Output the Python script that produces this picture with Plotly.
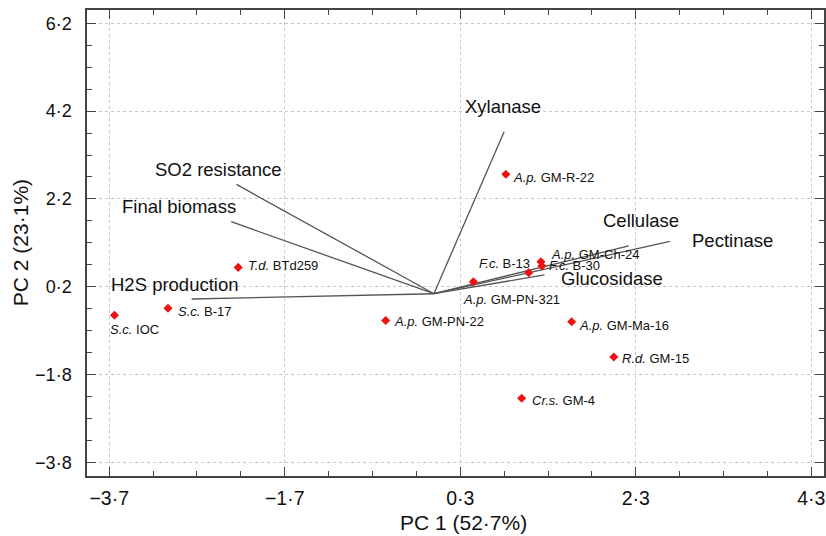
import plotly.graph_objects as go

# ---- data ----
strain_labels = ["<i>S.c.</i> IOC", "<i>S.c.</i> B-17", "<i>T.d.</i> BTd259", "<i>A.p.</i> GM-PN-22",
                 "<i>A.p.</i> GM-PN-321", "<i>F.c.</i> B-13", "<i>A.p.</i> GM-Ch-24", "<i>F.c.</i> B-30",
                 "<i>A.p.</i> GM-R-22", "<i>A.p.</i> GM-Ma-16", "<i>R.d.</i> GM-15", "<i>Cr.s.</i> GM-4"]
pc1_scores = [-3.64, -3.03, -2.23, -0.55, 0.45, 1.08, 1.22, 1.23, 0.82, 1.57, 2.05, 1.00]
pc2_scores = [-0.45, -0.29, 0.64, -0.57, 0.31, 0.52, 0.77, 0.67, 2.76, -0.60, -1.40, -2.34]

variables = ["H2S production", "Final biomass", "SO2 resistance", "Xylanase",
             "Pectinase", "Cellulase", "Glucosidase"]
loading_pc1 = [-2.76, -2.31, -2.25, 0.80, 2.69, 2.22, 1.26]
loading_pc2 = [-0.08, 1.68, 2.53, 3.73, 1.23, 1.13, 0.47]
origin = (0.0, 0.04)

x_tickvals = [-3.7, -1.7, 0.3, 2.3, 4.3]
x_ticktext = ["\u22123\u00b77", "\u22121\u00b77", "0\u00b73", "2\u00b73", "4\u00b73"]
y_tickvals = [6.2, 4.2, 2.2, 0.2, -1.8, -3.8]
y_ticktext = ["6\u00b72", "4\u00b72", "2\u00b72", "0\u00b72", "\u22121\u00b78", "\u22123\u00b78"]
x_title = "PC 1 (52\u00b77%)"
y_title = "PC 2 (23\u00b71%)"

# ---- layout helpers (positions/styles) ----
var_label_pos = [(-2.95, 0.24), (-2.91, 2.02), (-2.46, 2.86), (0.79, 4.30),
                 (3.40, 1.26), (2.36, 1.70), (2.03, 0.38)]
# (xanchor, xshift, yshift) for each strain label
strain_label_offsets = [("left", -6, -14), ("left", 8, -3), ("left", 8, 2), ("left", 6, -1),
                        ("left", -12, -18), ("right", 3, 9), ("left", 8, 7), ("left", 5, 1),
                        ("left", 5, -3), ("left", 5, -4), ("left", 6, -2), ("left", 8, -2)]

FONT = "Liberation Sans, Arial, Helvetica, sans-serif"
TXT = "#111111"
fig = go.Figure()

for i, v in enumerate(variables):
    fig.add_trace(go.Scatter(x=[origin[0], loading_pc1[i]], y=[origin[1], loading_pc2[i]],
                             mode="lines", line=dict(color="#555555", width=1.3),
                             showlegend=False, hoverinfo="skip"))
    fig.add_annotation(x=var_label_pos[i][0], y=var_label_pos[i][1], text=v, showarrow=False,
                       xanchor="center", yanchor="middle",
                       font=dict(family=FONT, size=18.5, color=TXT))

fig.add_trace(go.Scatter(x=pc1_scores, y=pc2_scores, mode="markers",
                         marker=dict(symbol="diamond", size=7, color="#ee1111"),
                         showlegend=False))

for i, lab in enumerate(strain_labels):
    xa, xs, ys = strain_label_offsets[i]
    fig.add_annotation(x=pc1_scores[i], y=pc2_scores[i], text=lab, showarrow=False,
                       xanchor=xa, yanchor="middle", xshift=xs, yshift=ys,
                       font=dict(family=FONT, size=13, color=TXT))

# axis titles
fig.add_annotation(xref="paper", yref="paper", x=0.5115, y=-0.099, text=x_title, showarrow=False,
                   xanchor="center", yanchor="middle", font=dict(family=FONT, size=21, color=TXT))
fig.add_annotation(xref="paper", yref="paper", x=-0.0907, y=0.5, text=y_title, showarrow=False,
                   textangle=-90, xanchor="center", yanchor="middle",
                   font=dict(family=FONT, size=21, color=TXT))

axis_common = dict(showline=True, linecolor="#444444", linewidth=1.5, mirror="ticks",
                   ticks="inside", ticklen=9, tickwidth=1.2, tickcolor="#444444",
                   showgrid=True, gridcolor="#c8c8c8", griddash="dot", gridwidth=1,
                   zeroline=False)

fig.update_xaxes(range=[-3.953, 4.445], tickmode="array", tickvals=x_tickvals, ticktext=x_ticktext,
                 minor=dict(ticks="inside", ticklen=5, tick0=-3.7, dtick=0.5, tickcolor="#444444",
                            showgrid=False),
                 tickfont=dict(family=FONT, size=19.5, color=TXT), ticklabelstandoff=4,
                 **axis_common)
fig.update_yaxes(range=[-4.112, 6.503], tickmode="array", tickvals=y_tickvals, ticktext=y_ticktext,
                 minor=dict(ticks="inside", ticklen=5, tick0=0.2, dtick=0.5, tickcolor="#444444",
                            showgrid=False),
                 tickfont=dict(family=FONT, size=18, color=TXT), ticklabelstandoff=10,
                 **axis_common)

fig.update_layout(width=826, height=536, margin=dict(l=87, r=0, t=10, b=60),
                  plot_bgcolor="white", paper_bgcolor="white", font=dict(family=FONT))

fig.write_html("out.html")
